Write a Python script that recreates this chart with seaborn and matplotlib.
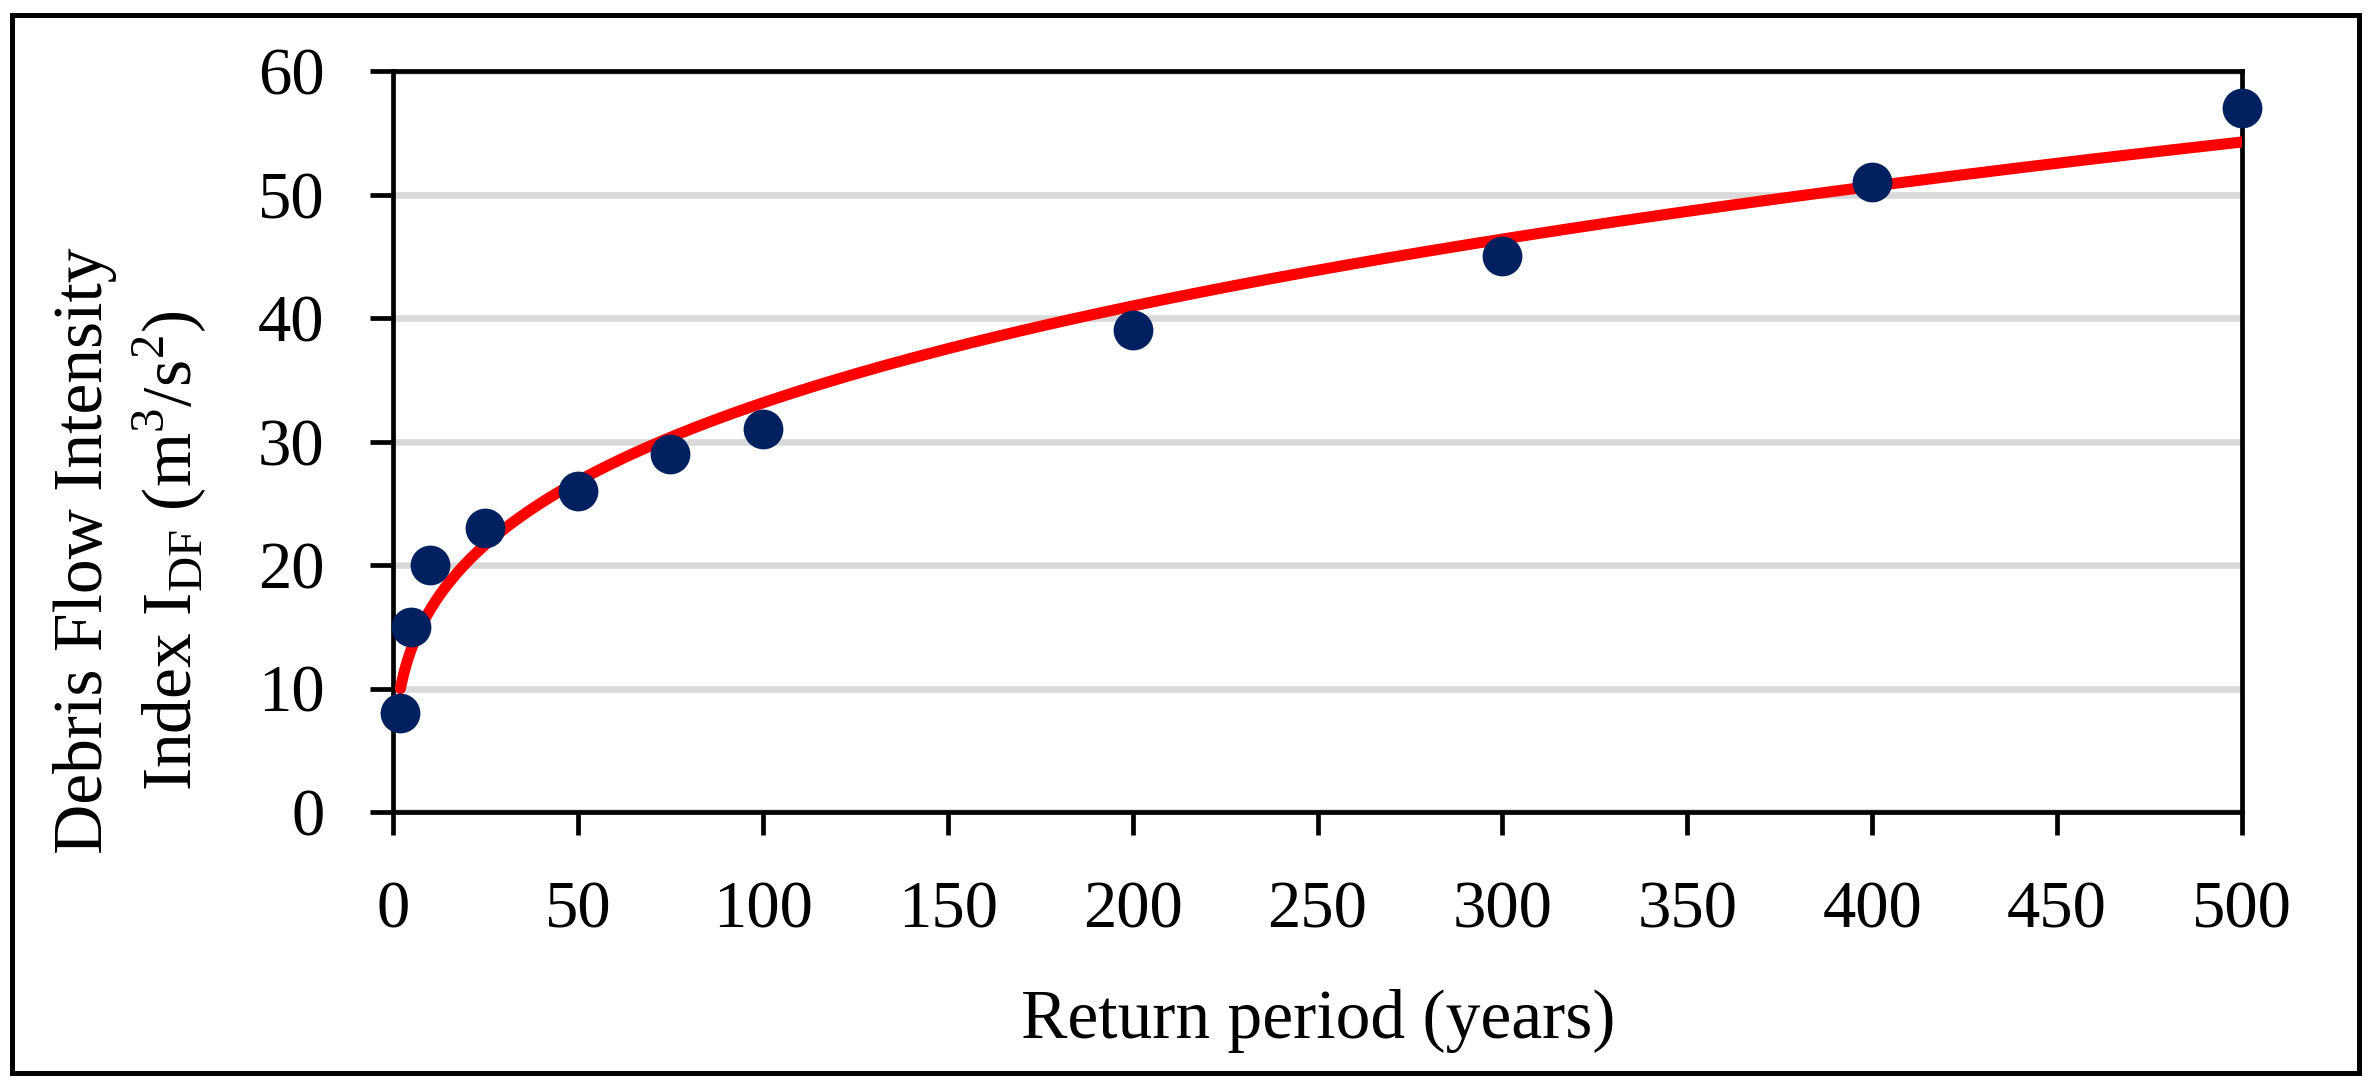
import numpy as np
import matplotlib
matplotlib.use("Agg")
import matplotlib.pyplot as plt
from matplotlib.patches import Rectangle
import seaborn as sns

# data
return_period = [2, 5, 10, 25, 50, 75, 100, 200, 300, 400, 500]
idf_index = [8, 15, 20, 23, 26, 29, 31, 39, 45, 51, 57]
x_ticks = [0, 50, 100, 150, 200, 250, 300, 350, 400, 450, 500]
y_ticks = [0, 10, 20, 30, 40, 50, 60]

sns.set_theme(style="white")
plt.rcParams['font.family'] = ['Liberation Serif', 'DejaVu Serif']
plt.rcParams['mathtext.fontset'] = 'custom'
plt.rcParams['mathtext.rm'] = 'Liberation Serif'
plt.rcParams['text.color'] = 'black'

# power trendline y = a * x^b, fitted like the spreadsheet trendline
b, log_a = np.polyfit(np.log(return_period), np.log(idf_index), 1)
fit_x = np.geomspace(min(return_period), max(return_period), 400)
fit_y = np.exp(log_a) * fit_x ** b

fig = plt.figure(figsize=(23.71, 10.91), dpi=100)
ax = fig.add_axes([393 / 2371, 1 - 812 / 1091, (2242 - 393) / 2371, (812 - 71) / 1091])

ax.set_axisbelow(True)
ax.yaxis.grid(True, color='#D9D9D9', linewidth=4.8)
ax.xaxis.grid(False)

sns.lineplot(x=fit_x, y=fit_y, ax=ax, color='#FF0000', linewidth=8,
             solid_capstyle='round', zorder=4, sort=False)
sns.scatterplot(x=return_period, y=idf_index, ax=ax, s=820, color='#002060',
                edgecolor='#002060', linewidth=0, zorder=5, clip_on=False)

ax.set_xlim(0, 500)
ax.set_ylim(0, 60)
ax.set_xticks(x_ticks)
ax.set_yticks(y_ticks)
ax.tick_params(axis='both', which='major', direction='out', length=16.5, width=3.4,
               color='black', labelsize=48, labelcolor='black')
ax.tick_params(axis='y', pad=33)
ax.tick_params(axis='x', pad=33)
ax.tick_params(bottom=True, left=True, top=False, right=False)

for side in ['left', 'bottom', 'top', 'right']:
    ax.spines[side].set_visible(True)
    ax.spines[side].set_color('black')
    ax.spines[side].set_linewidth(3.4)

ax.set_xlabel('')
ax.set_ylabel('')
fig.text(1318 / 2371, 1 - 1038 / 1091, 'Return period (years)', fontsize=50,
         ha='center', va='baseline')
fig.text(102 / 2371, 1 - 551 / 1091, 'Debris Flow Intensity', fontsize=50,
         rotation=90, rotation_mode='anchor', ha='center', va='baseline')
fig.text(192 / 2371, 1 - 551 / 1091,
         r'Index I$_{\mathregular{DF}}$ (m$^{\mathregular{3}}$/s$^{\mathregular{2}}$)',
         fontsize=50, rotation=90, rotation_mode='anchor', ha='center', va='baseline')

# outer frame around the whole chart
fig.add_artist(Rectangle((12 / 2371, 1 - 1073 / 1091), (2359 - 12) / 2371,
                         (1073 - 15) / 1091, transform=fig.transFigure,
                         fill=False, edgecolor='black', linewidth=3.6))

fig.savefig('out.png', dpi=100, facecolor='white')
